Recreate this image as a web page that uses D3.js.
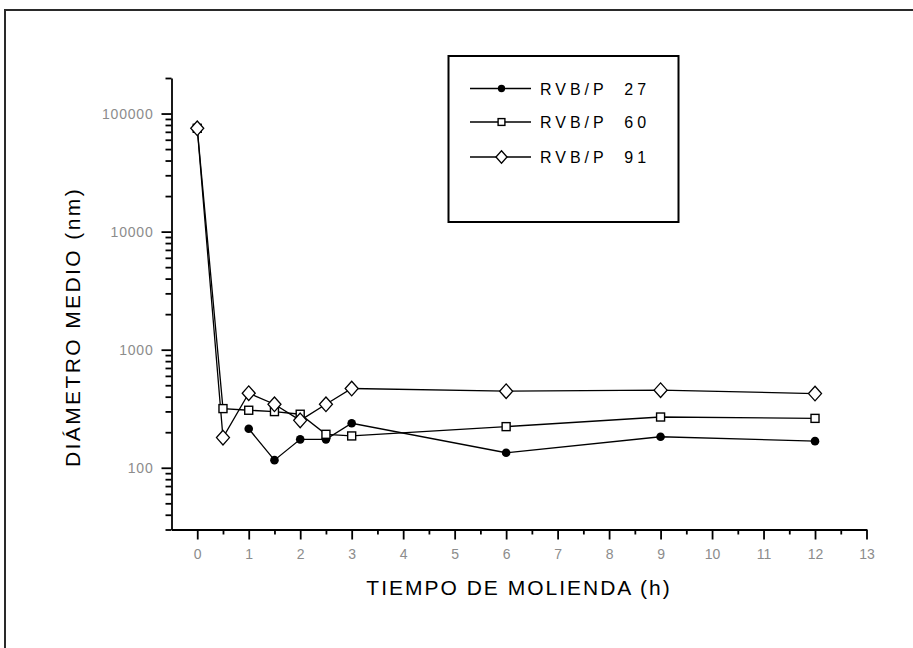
<!DOCTYPE html>
<html>
<head>
<meta charset="utf-8">
<script src="https://cdn.jsdelivr.net/npm/d3@7"></script>
<style>
  html, body { margin: 0; padding: 0; background: #ffffff; }
  svg { display: block; }
  text { font-family: "Liberation Sans", Arial, sans-serif; }
</style>
</head>
<body>
<svg id="chart" width="913" height="648"></svg>
<script>
// ---- data ----
const hours = [0, 0.5, 1, 1.5, 2, 2.5, 3, 6, 9, 12];
const seriesNames = ["RVB/P  27", "RVB/P  60", "RVB/P  91"];
const rvb27 = [null, null, 214, 116, 174, 174, 238, 134, 183, 168];
const rvb60 = [75000, 317, 307, 299, 284, 192, 186, 223, 269, 262];
const rvb91 = [75000, 180, 428, 345, 252, 345, 469, 445, 454, 425];
const xTickLabels = [0,1,2,3,4,5,6,7,8,9,10,11,12,13];
const yTickLabels = [100, 1000, 10000, 100000];
const xTitle = "TIEMPO DE MOLIENDA (h)";
const yTitle = "DIÁMETRO MEDIO (nm)";

const svg = d3.select("#chart");

// outer frame (continues beyond the picture)
svg.append("rect").attr("x", 5).attr("y", 10).attr("width", 1000).attr("height", 1000)
  .attr("fill", "none").attr("stroke", "#2a2a2a").attr("stroke-width", 2);

const x = d3.scaleLinear().domain([-0.5, 13]).range([171.5, 866.5]);
const y = d3.scaleLog().domain([30, 200000]).range([529.5, 78]);

// minor ticks
const xMinor = d3.range(-0.5, 13, 1).filter(v => v > -0.5);
const yMinor = [];
[10, 100, 1000, 10000, 100000].forEach(dec => {
  for (let k = 2; k <= 9; k++) { const v = k * dec; if (v >= 30 && v <= 200000) yMinor.push(v); }
});

const axisStroke = "#000";
function styleAxis(g) {
  g.selectAll("path.domain").attr("stroke", axisStroke).attr("stroke-width", 1.8);
  g.selectAll(".tick line").attr("stroke", axisStroke).attr("stroke-width", 1.8);
  g.selectAll(".tick text").attr("fill", "#8c8c8c")
    .style("font-family", "'Liberation Sans', Arial, sans-serif").style("font-size", "14px");
}

// x axis
const gx = svg.append("g").attr("transform", `translate(0,${y(30)})`);
gx.call(d3.axisBottom(x).tickValues(xMinor).tickSize(5).tickSizeOuter(0).tickFormat(""));
styleAxis(gx);
const gx2 = svg.append("g").attr("transform", `translate(0,${y(30)})`);
gx2.call(d3.axisBottom(x).tickValues(xTickLabels).tickSize(10).tickSizeOuter(0).tickPadding(10));
gx2.select("path.domain").remove();
styleAxis(gx2);

// y axis
const gy = svg.append("g").attr("transform", `translate(${x(-0.5)},0)`);
gy.call(d3.axisLeft(y).tickValues(yMinor).tickSize(6).tickSizeOuter(0).tickFormat(""));
styleAxis(gy);
const gy2 = svg.append("g").attr("transform", `translate(${x(-0.5)},0)`);
gy2.call(d3.axisLeft(y).tickValues(yTickLabels).tickSize(10).tickSizeOuter(0).tickPadding(8).tickFormat(d3.format("d")));
gy2.select("path.domain").remove();
styleAxis(gy2);
gy2.selectAll(".tick text").style("letter-spacing", "0.8px");

// titles
svg.append("text").attr("x", 519).attr("y", 595).attr("text-anchor", "middle")
  .style("font-size", "21px").style("letter-spacing", "2px").attr("fill", "#000").text(xTitle);
svg.append("text").attr("transform", "translate(80,327) rotate(-90)").attr("text-anchor", "middle")
  .style("font-size", "21px").style("letter-spacing", "2.4px").attr("fill", "#000").text(yTitle);

// series
const series = [
  { name: seriesNames[0], values: rvb27, marker: "circle" },
  { name: seriesNames[1], values: rvb60, marker: "square" },
  { name: seriesNames[2], values: rvb91, marker: "diamond" }
];

const line = d3.line()
  .defined(d => d.v != null)
  .x(d => x(d.h)).y(d => y(d.v));

function drawMarker(g, type, cx, cy, scale) {
  const s = scale || 1;
  if (type === "circle") {
    g.append("circle").attr("cx", cx).attr("cy", cy).attr("r", 4.3 * s).attr("fill", "#000");
  } else if (type === "square") {
    const a = 8 * s;
    g.append("rect").attr("x", cx - a / 2).attr("y", cy - a / 2).attr("width", a).attr("height", a)
      .attr("fill", "#fff").attr("stroke", "#000").attr("stroke-width", 1.4);
  } else {
    const w = 6.5 * s, h = 7.3 * s;
    g.append("path").attr("d", `M${cx},${cy - h}L${cx + w},${cy}L${cx},${cy + h}L${cx - w},${cy}Z`)
      .attr("fill", "#fff").attr("stroke", "#000").attr("stroke-width", 1.3);
  }
}

series.forEach(s => {
  const pts = hours.map((h, i) => ({ h, v: s.values[i] }));
  svg.append("path").datum(pts).attr("d", line)
    .attr("fill", "none").attr("stroke", "#000").attr("stroke-width", 1.3);
});
series.forEach(s => {
  const g = svg.append("g");
  hours.forEach((h, i) => {
    const v = s.values[i];
    if (v != null) drawMarker(g, s.marker, x(h), y(v));
  });
});

// legend
const lg = svg.append("g");
lg.append("rect").attr("x", 448.5).attr("y", 56).attr("width", 230).attr("height", 166)
  .attr("fill", "#fff").attr("stroke", "#000").attr("stroke-width", 2);
const rowY = [88.5, 122, 157];
series.forEach((s, i) => {
  const ry = rowY[i];
  lg.append("line").attr("x1", 470).attr("x2", 531).attr("y1", ry).attr("y2", ry)
    .attr("stroke", "#000").attr("stroke-width", 1.5);
  drawMarker(lg, s.marker, 501.5, ry, 0.85);
  lg.append("text").attr("x", 540).attr("y", ry + 6).attr("xml:space", "preserve")
    .style("white-space", "pre").style("font-size", "16px").style("letter-spacing", "4px")
    .attr("fill", "#000").text(s.name);
});
</script>
</body>
</html>
